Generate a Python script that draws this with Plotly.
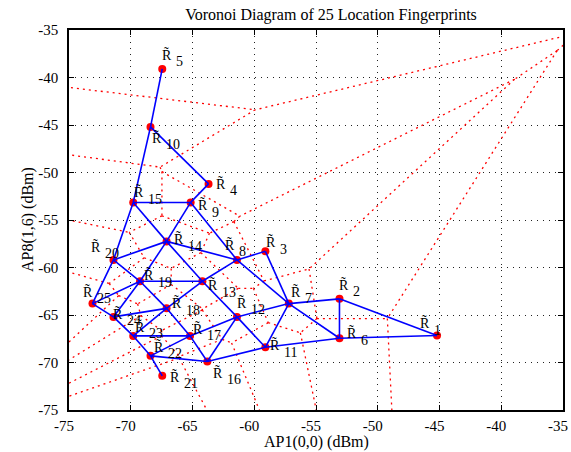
import numpy as np
import plotly.graph_objects as go

# ---- data: 25 location fingerprints (AP1 RSS, AP8 RSS), dBm ----
fp_id = list(range(1, 26))
ap1 = [-45.2, -53.1, -59.1, -63.7, -67.45, -53.1, -57.2, -61.4, -65.15, -68.4,
       -59.1, -61.4, -64.2, -67.1, -69.8, -63.8, -65.2, -67.1, -69.25, -71.4,
       -67.45, -68.4, -69.8, -71.4, -73.1]
ap8 = [-67.15, -63.3, -58.3, -51.2, -39.1, -67.45, -63.8, -59.2, -53.15, -45.2,
       -68.4, -65.2, -61.45, -57.25, -53.15, -69.9, -67.2, -64.3, -61.45, -59.2,
       -71.4, -69.3, -67.2, -65.2, -63.8]
# neighbour links drawn in blue (fingerprint ids)
links = [(5, 10), (10, 15), (10, 4), (4, 9), (15, 9), (15, 20), (15, 14), (9, 14),
         (9, 8), (14, 20), (14, 19), (14, 13), (14, 8), (20, 19), (20, 25), (8, 3),
         (8, 13), (8, 7), (3, 7), (19, 13), (19, 25), (19, 24), (19, 18), (13, 18),
         (13, 12), (18, 24), (18, 23), (18, 17), (12, 7), (12, 11), (12, 16),
         (12, 17), (7, 11), (7, 2), (7, 6), (2, 6), (2, 1), (6, 1), (11, 16),
         (11, 6), (24, 25), (24, 23), (23, 17), (23, 22), (22, 17), (22, 16),
         (22, 21), (17, 16)]
x_ticks = [-75, -70, -65, -60, -55, -50, -45, -40, -35]
y_ticks = [-75, -70, -65, -60, -55, -50, -45, -40, -35]
title_text = "Voronoi Diagram of 25 Location Fingerprints"
x_title = "AP1(0,0) (dBm)"
y_title = "AP8(1,6) (dBm)"

# label placement (pixel offsets of the "R" from its point) -- layout only
lab_dx = [-12, 5, 6, 12, 5, 13, 7, -7, 12, 6, 10, 5, 11, 12, 6, 11, 8, 10, 9, -17, 13, 8, 7, 5, -4]
lab_dy = [-12, -14, -9, 0, -14, -5, -12, -15, 3, 11, -2, -14, 4, -2, -10, 11, -7, -5, -6, -13, 1, -9, -9, -3, -12]

FONT = "Liberation Serif"
W, H = 571, 452
L, T = 69, 30
PW, PH = 494, 380
R, B = W - L - PW, H - T - PH

# ---- Voronoi edges computed from the points ----
P = np.column_stack([ap1, ap8]).astype(float)
n = len(P)
vx, vy = [], []
for i in range(n):
    for j in range(i + 1, n):
        m = (P[i] + P[j]) / 2
        v = P[j] - P[i]
        d = np.array([-v[1], v[0]])
        d /= np.linalg.norm(d)
        lo, hi = -500.0, 500.0
        ok = True
        for k in range(n):
            if k == i or k == j:
                continue
            w = P[k] - P[i]
            a = 2 * d.dot(w)
            c = P[k].dot(P[k]) - P[i].dot(P[i]) - 2 * m.dot(w)
            if abs(a) < 1e-12:
                if c < 0:
                    ok = False
                    break
            elif a > 0:
                hi = min(hi, c / a)
            else:
                lo = max(lo, c / a)
        if ok and hi > lo + 1e-9:
            a0 = m + lo * d
            a1 = m + hi * d
            vx += [a0[0], a1[0], None]
            vy += [a0[1], a1[1], None]

lx, ly = [], []
for a, b in links:
    lx += [ap1[a - 1], ap1[b - 1], None]
    ly += [ap8[a - 1], ap8[b - 1], None]

fig = go.Figure()
fig.add_trace(go.Scatter(x=vx, y=vy, mode="lines",
                         line=dict(color="red", width=1.3, dash="2px,4px"),
                         hoverinfo="skip", showlegend=False))
fig.add_trace(go.Scatter(x=ap1, y=ap8, mode="markers",
                         marker=dict(color="red", size=8, line=dict(width=0)),
                         showlegend=False))
fig.add_trace(go.Scatter(x=lx, y=ly, mode="lines",
                         line=dict(color="blue", width=1.6),
                         hoverinfo="skip", showlegend=False))

ann = []
for k in range(n):
    ann.append(dict(x=ap1[k], y=ap8[k], xref="x", yref="y", text="R\u0303",
                    showarrow=False, xanchor="center", yanchor="middle",
                    xshift=lab_dx[k], yshift=-lab_dy[k],
                    font=dict(family=FONT, size=14, color="black")))
    ann.append(dict(x=ap1[k], y=ap8[k], xref="x", yref="y", text=str(fp_id[k]),
                    showarrow=False, xanchor="left", yanchor="middle",
                    xshift=lab_dx[k] + 7, yshift=-(lab_dy[k] + 7),
                    font=dict(family=FONT, size=14, color="black")))

# axis titles (page coordinates converted to paper units)
ann.append(dict(text=x_title, xref="paper", yref="paper",
                x=(316 - L) / PW, y=-(442 - (T + PH)) / PH,
                xanchor="center", yanchor="middle", showarrow=False,
                font=dict(family=FONT, size=16, color="black")))
ann.append(dict(text=y_title, xref="paper", yref="paper",
                x=-(L - 28) / PW, y=0.5, textangle=-90,
                xanchor="center", yanchor="middle", showarrow=False,
                font=dict(family=FONT, size=16, color="black")))

axis_common = dict(showline=True, linecolor="black", linewidth=1.5, mirror="ticks",
                   ticks="inside", ticklen=5, tickcolor="black", tickwidth=1,
                   showgrid=True, gridcolor="#222222", gridwidth=1, griddash="1px,5px",
                   zeroline=False, automargin=False,
                   tickfont=dict(family=FONT, size=15, color="black"))

fig.update_layout(
    width=W, height=H,
    margin=dict(l=L, r=R, t=T, b=B),
    paper_bgcolor="white", plot_bgcolor="white",
    title=dict(text=title_text, x=331 / W, xanchor="center",
               y=1 - 14 / H, yanchor="middle",
               font=dict(family=FONT, size=16, color="black")),
    xaxis=dict(range=[-75, -35], tickvals=x_ticks, ticktext=[str(t) for t in x_ticks],
               ticklabelshift=-5, ticklabelstandoff=1, **axis_common),
    yaxis=dict(range=[-75, -35], tickvals=y_ticks, ticktext=[str(t) for t in y_ticks],
               ticklabelstandoff=6, **axis_common),
    annotations=ann,
)
# remove the browser's default 8px page margin so the figure fills the window
fig.write_html("out.html", config={"displayModeBar": False},
               post_script="document.body.style.margin='0';")
